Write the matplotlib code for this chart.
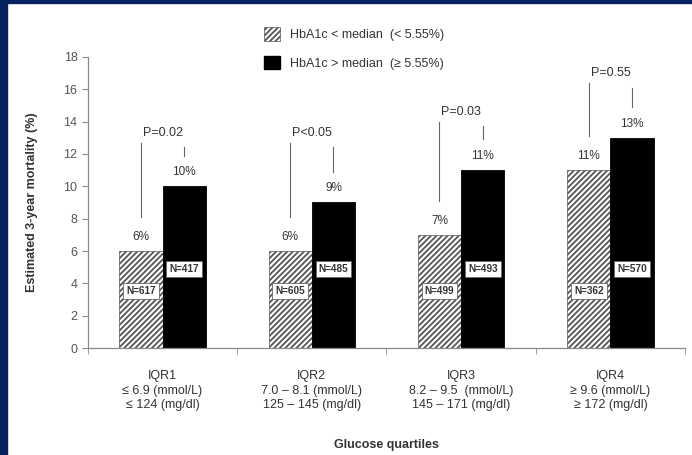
import matplotlib

matplotlib.use("Agg")
import matplotlib.pyplot as plt
import numpy as np
from matplotlib.patches import Patch, Rectangle

# data
categories = [
    "IQR1\n≤ 6.9 (mmol/L)\n≤ 124 (mg/dl)",
    "IQR2\n7.0 – 8.1 (mmol/L)\n125 – 145 (mg/dl)",
    "IQR3\n8.2 – 9.5  (mmol/L)\n145 – 171 (mg/dl)",
    "IQR4\n≥ 9.6 (mmol/L)\n≥ 172 (mg/dl)",
]
below_median = [6, 6, 7, 11]
above_median = [10, 9, 11, 13]
n_below = [617, 605, 499, 362]
n_above = [417, 485, 493, 570]
p_labels = ["P=0.02", "P<0.05", "P=0.03", "P=0.55"]
p_heights = [13.3, 13.3, 14.6, 17.0]

plt.rcParams["font.family"] = ["Liberation Sans", "DejaVu Sans"]
plt.rcParams["hatch.linewidth"] = 1.3
plt.rcParams["hatch.color"] = "#333333"
text_c = "#333333"
axis_c = "#8a8a8a"

fig = plt.figure(figsize=(6.92, 4.55), dpi=100)
ax = fig.add_axes([0.127, 0.235, 0.863, 0.64])

x = np.arange(len(categories))
w = 0.29
ax.bar(x - w / 2, below_median, width=w, color="white", edgecolor="#555555",
       hatch="//////", linewidth=0.5, zorder=2)
ax.bar(x + w / 2, above_median, width=w, color="black", edgecolor="black",
       linewidth=0.6, zorder=2)

box = dict(boxstyle="square,pad=0.3", fc="white", ec="#666666", lw=0.6)
for i in range(len(x)):
    xl, xr = x[i] - w / 2, x[i] + w / 2
    lo, hi = below_median[i], above_median[i]
    ax.text(xl, lo + 0.5, f"{lo}%", ha="center", va="bottom", fontsize=8.5, color=text_c)
    ax.text(xr, hi + 0.5, f"{hi}%", ha="center", va="bottom", fontsize=8.5, color=text_c)
    ax.text(xl, 3.5, f"N={n_below[i]}", ha="center", va="center", fontsize=7.2,
            fontweight="bold", color="#333333", bbox=box, zorder=3)
    ax.text(xr, 4.9, f"N={n_above[i]}", ha="center", va="center", fontsize=7.2,
            fontweight="bold", color="#333333", bbox=box, zorder=3)
    py = p_heights[i]
    ax.text(x[i], py, p_labels[i], ha="center", va="center", fontsize=9, color=text_c)
    ax.plot([xl, xl], [lo + 2.1, py - 0.6], color="#666666", lw=0.8)
    ax.plot([xr, xr], [hi + 1.9, max(py - 0.9, hi + 2.4)], color="#666666", lw=0.8)

ax.set_xlim(-0.5, len(x) - 0.5)
ax.set_ylim(0, 18)
ax.set_yticks(range(0, 19, 2))
ax.set_xticks(x)
ax.set_xticklabels(categories, fontsize=9, color=text_c, linespacing=1.25)
ax.set_xticks(np.arange(-0.5, len(x), 1.0), minor=True)
ax.tick_params(axis="x", which="major", length=0, pad=16)
ax.tick_params(axis="x", which="minor", length=4, color=axis_c)
ax.tick_params(axis="y", length=4, color=axis_c, labelsize=9, labelcolor="#555555")
for side in ["top", "right"]:
    ax.spines[side].set_visible(False)
for side in ["left", "bottom"]:
    ax.spines[side].set_color(axis_c)
    ax.spines[side].set_linewidth(0.9)

ax.set_ylabel("Estimated 3-year mortality (%)", fontsize=9, fontweight="bold",
              color=text_c, labelpad=18)
ax.set_xlabel("Glucose quartiles", fontsize=9, fontweight="bold", color=text_c, labelpad=20)

handles = [
    Patch(facecolor="white", edgecolor="#555555", hatch="//////", lw=0.5),
    Patch(facecolor="black", edgecolor="black"),
]
fig.legend(handles, ["HbA1c < median  (< 5.55%)", "HbA1c > median  (≥ 5.55%)"],
           loc="upper left", bbox_to_anchor=(0.365, 0.965), frameon=False,
           fontsize=9, labelspacing=1.15, handlelength=1.3, handleheight=1.3,
           labelcolor=text_c)

# navy frame on left and top edges
navy = "#06215e"
fig.patches.append(Rectangle((0, 0), 7 / 692, 1, transform=fig.transFigure,
                             color=navy, zorder=0))
fig.patches.append(Rectangle((0, 1 - 3 / 455), 1, 3 / 455, transform=fig.transFigure,
                             color=navy, zorder=0))

fig.savefig("out.png", dpi=100)
